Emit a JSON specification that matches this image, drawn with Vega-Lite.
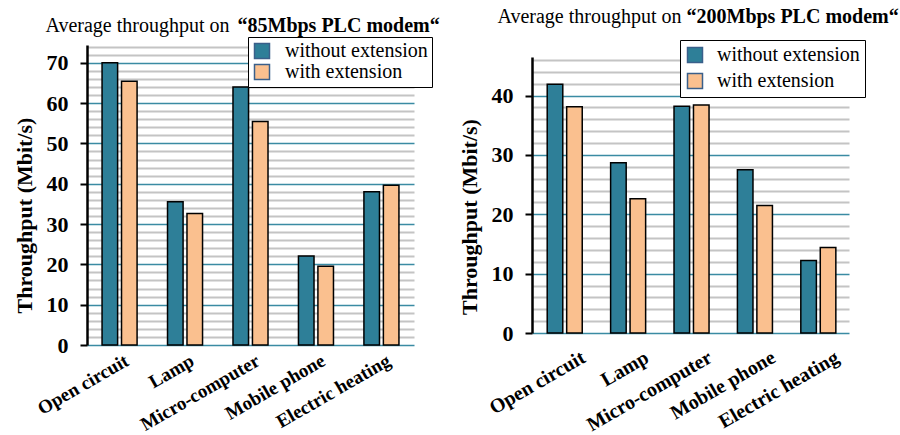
{
  "$schema": "https://vega.github.io/schema/vega-lite/v6.json",
  "padding": {"left": 13, "top": 6, "right": 0, "bottom": 0},
  "background": "white",
  "datasets": {
    "m85": [
      {"device": "Open circuit", "series": "without extension", "value": 70.0},
      {"device": "Open circuit", "series": "with extension", "value": 65.4},
      {"device": "Lamp", "series": "without extension", "value": 35.5},
      {"device": "Lamp", "series": "with extension", "value": 32.6},
      {"device": "Micro-computer", "series": "without extension", "value": 64.0},
      {"device": "Micro-computer", "series": "with extension", "value": 55.4},
      {"device": "Mobile phone", "series": "without extension", "value": 22.1},
      {"device": "Mobile phone", "series": "with extension", "value": 19.5},
      {"device": "Electric heating", "series": "without extension", "value": 38.0},
      {"device": "Electric heating", "series": "with extension", "value": 39.6}
    ],
    "m200": [
      {"device": "Open circuit", "series": "without extension", "value": 41.9},
      {"device": "Open circuit", "series": "with extension", "value": 38.1},
      {"device": "Lamp", "series": "without extension", "value": 28.7},
      {"device": "Lamp", "series": "with extension", "value": 22.6},
      {"device": "Micro-computer", "series": "without extension", "value": 38.2},
      {"device": "Micro-computer", "series": "with extension", "value": 38.4},
      {"device": "Mobile phone", "series": "without extension", "value": 27.5},
      {"device": "Mobile phone", "series": "with extension", "value": 21.5},
      {"device": "Electric heating", "series": "without extension", "value": 12.2},
      {"device": "Electric heating", "series": "with extension", "value": 14.4}
    ]
  },
  "hconcat": [
    {
      "data": {"name": "m85"},
      "width": 327,
      "height": 300,
      "layer": [
        {
          "mark": {"type": "bar", "stroke": "black", "strokeWidth": 1.5},
          "encoding": {
            "x": {"field": "device", "type": "nominal", "sort": ["Open circuit", "Lamp", "Micro-computer", "Mobile phone", "Electric heating"],
              "scale": {"paddingInner": 0.465, "paddingOuter": 0.23},
              "axis": {"orient": "bottom", "title": null, "labelAngle": -30, "labelFont": "Liberation Serif", "labelFontWeight": "bold", "labelFontSize": 19, "labelColor": "black", "domain": false, "ticks": false, "labelPadding": 6, "labelOffset": 3, "labelOverlap": false, "labelLimit": 300}},
            "xOffset": {"field": "series", "type": "nominal", "sort": ["without extension", "with extension"], "scale": {"paddingInner": 0.2}},
            "y": {"field": "value", "type": "quantitative", "scale": {"domain": [0, 74.4], "nice": false},
              "axis": {"orient": "left", "values": [0,2,4,6,8,10,12,14,16,18,20,22,24,26,28,30,32,34,36,38,40,42,44,46,48,50,52,54,56,58,60,62,64,66,68,70,72,74],
                "labelExpr": "datum.value % 10 === 0 ? datum.label : ''",
                "labelFont": "Liberation Serif", "labelFontWeight": "bold", "labelFontSize": 22, "labelColor": "black", "labelPadding": 12,
                "tickSize": 7, "tickWidth": 2, "tickColor": "black",
                "tickOpacity": {"condition": {"test": "datum.value % 10 === 0", "value": 1}, "value": 0},
                "domainColor": "black", "domainWidth": 2.5,
                "grid": true,
                "gridColor": {"condition": {"test": "datum.value % 10 === 0", "value": "#3a8ba3"}, "value": "#c4c4c4"},
                "gridWidth": {"condition": {"test": "datum.value % 10 === 0", "value": 1.6}, "value": 2},
                "title": "Throughput (Mbit/s)", "titleFont": "Liberation Serif", "titleFontWeight": "bold", "titleFontSize": 22, "titleColor": "black", "titleY": 170, "titlePadding": 10}},
            "color": {"field": "series", "type": "nominal", "sort": ["without extension", "with extension"],
              "scale": {"domain": ["without extension", "with extension"], "range": ["#2e7f98", "#fac08f"]},
              "legend": {"orient": "none", "legendX": 161, "legendY": -8, "title": null, "fillColor": "white", "strokeColor": "black", "padding": 4,
                "symbolType": "square", "symbolSize": 225, "symbolStrokeWidth": 1.5, "symbolStrokeColor": "#3a5f8a",
                "labelFont": "Liberation Serif", "labelFontSize": 20, "labelColor": "black", "labelOffset": 13, "rowPadding": -5, "labelLimit": 300}}
          }
        },
        {
          "mark": {"type": "tick", "opacity": 0},
          "encoding": {
            "x": {"field": "device", "type": "nominal", "sort": ["Open circuit", "Lamp", "Micro-computer", "Mobile phone", "Electric heating"],
              "axis": {"orient": "top", "labels": false, "ticks": false, "domain": false, "grid": false,
                "title": "Average throughput on", "titleFont": "Liberation Serif", "titleFontWeight": "normal", "titleFontSize": 20, "titleColor": "black",
                "titleX": -42, "titleY": -14, "titleAlign": "left", "titleBaseline": "alphabetic", "titleAnchor": "start"}},
            "y": {"field": "value", "type": "quantitative",
              "axis": {"orient": "right", "labels": false, "ticks": false, "domain": false, "grid": false,
                "title": "“85Mbps PLC modem“", "titleFont": "Liberation Serif", "titleFontWeight": "bold", "titleFontSize": 20, "titleColor": "black",
                "titleAngle": 0, "titleX": -177, "titleY": -14, "titleAlign": "left", "titleBaseline": "alphabetic"}}
          }
        }
      ]
    },
    {
      "data": {"name": "m200"},
      "width": 317,
      "height": 276,
      "layer": [
        {
          "mark": {"type": "bar", "stroke": "black", "strokeWidth": 1.5},
          "encoding": {
            "x": {"field": "device", "type": "nominal", "sort": ["Open circuit", "Lamp", "Micro-computer", "Mobile phone", "Electric heating"],
              "scale": {"paddingInner": 0.48, "paddingOuter": 0.24},
              "axis": {"orient": "bottom", "title": null, "labelAngle": -30, "labelFont": "Liberation Serif", "labelFontWeight": "bold", "labelFontSize": 20, "labelColor": "black", "domain": false, "ticks": false, "labelPadding": 14, "labelOffset": 15, "labelOverlap": false, "labelLimit": 300}},
            "xOffset": {"field": "series", "type": "nominal", "sort": ["without extension", "with extension"], "scale": {"paddingInner": 0.15}},
            "y": {"field": "value", "type": "quantitative", "scale": {"domain": [0, 46.5], "nice": false},
              "axis": {"orient": "left", "values": [0,2,4,6,8,10,12,14,16,18,20,22,24,26,28,30,32,34,36,38,40,42,44,46],
                "labelExpr": "datum.value % 10 === 0 ? datum.label : ''",
                "labelFont": "Liberation Serif", "labelFontWeight": "bold", "labelFontSize": 22, "labelColor": "black", "labelPadding": 12,
                "tickSize": 7, "tickWidth": 2, "tickColor": "black",
                "tickOpacity": {"condition": {"test": "datum.value % 10 === 0", "value": 1}, "value": 0},
                "domainColor": "black", "domainWidth": 2.5,
                "grid": true,
                "gridColor": {"condition": {"test": "datum.value % 10 === 0", "value": "#3a8ba3"}, "value": "#c4c4c4"},
                "gridWidth": {"condition": {"test": "datum.value % 10 === 0", "value": 1.6}, "value": 2},
                "title": "Throughput (Mbit/s)", "titleFont": "Liberation Serif", "titleFontWeight": "bold", "titleFontSize": 22, "titleColor": "black", "titleY": 159.5, "titlePadding": 10}},
            "color": {"field": "series", "type": "nominal", "sort": ["without extension", "with extension"],
              "scale": {"domain": ["without extension", "with extension"], "range": ["#2e7f98", "#fac08f"]},
              "legend": {"orient": "none", "legendX": 148, "legendY": -17, "title": null, "fillColor": "white", "strokeColor": "black", "padding": 5,
                "symbolType": "square", "symbolSize": 225, "symbolStrokeWidth": 1.5, "symbolStrokeColor": "#3a5f8a",
                "labelFont": "Liberation Serif", "labelFontSize": 20, "labelColor": "black", "labelOffset": 12, "rowPadding": 4, "labelLimit": 300}}
          }
        },
        {
          "mark": {"type": "tick", "opacity": 0},
          "encoding": {
            "x": {"field": "device", "type": "nominal", "sort": ["Open circuit", "Lamp", "Micro-computer", "Mobile phone", "Electric heating"],
              "axis": {"orient": "top", "labels": false, "ticks": false, "domain": false, "grid": false,
                "title": "Average throughput on", "titleFont": "Liberation Serif", "titleFontWeight": "normal", "titleFontSize": 20, "titleColor": "black",
                "titleX": -35, "titleY": -35, "titleAlign": "left", "titleBaseline": "alphabetic", "titleAnchor": "start"}},
            "y": {"field": "value", "type": "quantitative",
              "axis": {"orient": "right", "labels": false, "ticks": false, "domain": false, "grid": false,
                "title": "“200Mbps PLC modem“", "titleFont": "Liberation Serif", "titleFontWeight": "bold", "titleFontSize": 20, "titleColor": "black",
                "titleAngle": 0, "titleX": -163, "titleY": -35, "titleAlign": "left", "titleBaseline": "alphabetic"}}
          }
        }
      ]
    }
  ],
  "spacing": 118,
  "bounds": "flush",
  "center": true,
  "resolve": {"scale": {"color": "independent"}},
  "config": {"view": {"stroke": null}, "font": "Liberation Serif"}
}
